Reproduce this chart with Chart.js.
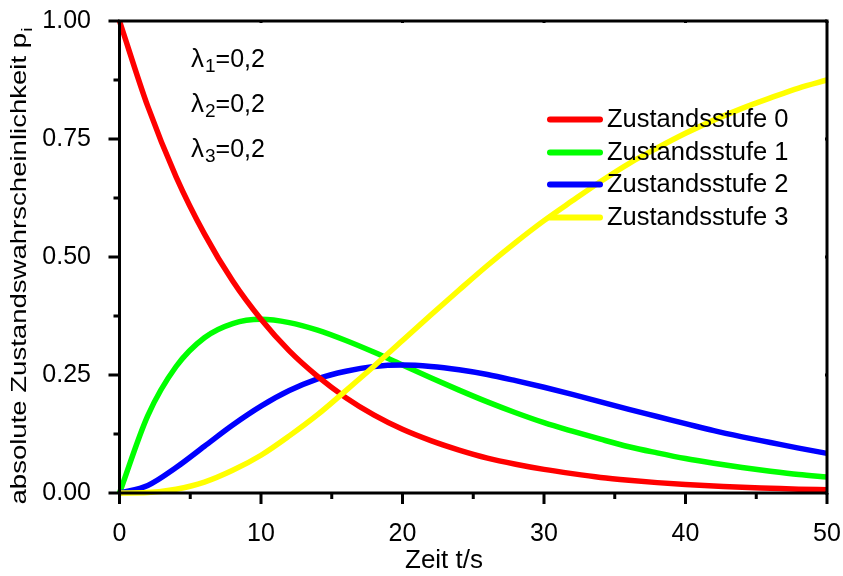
<!DOCTYPE html>
<html>
<head>
<meta charset="utf-8">
<script src="https://cdn.jsdelivr.net/npm/chart.js@4"></script>
<style>
  html, body { margin: 0; padding: 0; background: #fff; }
  #wrap { width: 843px; height: 576px; }
</style>
</head>
<body>
<div id="wrap"><canvas id="chart"></canvas></div>
<script>
'use strict';

var fontFamily = "'Liberation Sans', Arial, sans-serif";

var times = [0, 2, 4, 6, 8, 10, 12, 14, 16, 18, 20, 22, 24, 26, 28, 30, 32, 34, 36, 38, 40, 42, 44, 46, 48, 50];
var stufe0 = [1.000, 0.819, 0.670, 0.549, 0.449, 0.368, 0.301, 0.247, 0.202, 0.165, 0.135, 0.111, 0.091, 0.074, 0.061, 0.050, 0.041, 0.033, 0.027, 0.022, 0.018, 0.015, 0.012, 0.010, 0.008, 0.007];
var stufe1 = [0.000, 0.164, 0.268, 0.329, 0.359, 0.368, 0.361, 0.345, 0.323, 0.298, 0.271, 0.244, 0.218, 0.193, 0.170, 0.149, 0.131, 0.114, 0.098, 0.085, 0.073, 0.063, 0.054, 0.046, 0.039, 0.034];
var stufe2 = [0.000, 0.016, 0.054, 0.099, 0.144, 0.184, 0.217, 0.242, 0.258, 0.268, 0.271, 0.268, 0.261, 0.251, 0.238, 0.224, 0.209, 0.193, 0.177, 0.162, 0.147, 0.132, 0.119, 0.107, 0.095, 0.084];
var stufe3 = [0.000, 0.001, 0.008, 0.023, 0.048, 0.080, 0.121, 0.166, 0.217, 0.269, 0.323, 0.377, 0.430, 0.482, 0.531, 0.577, 0.619, 0.660, 0.698, 0.731, 0.762, 0.790, 0.815, 0.837, 0.858, 0.875];

var seriesNames = ['Zustandsstufe 0', 'Zustandsstufe 1', 'Zustandsstufe 2', 'Zustandsstufe 3'];
var seriesColors = ['#ff0000', '#00ff00', '#0000ff', '#ffff00'];
var seriesData = [stufe0, stufe1, stufe2, stufe3];
// lower order is drawn on top: yellow, then red, then blue, green at the bottom
var seriesOrder = [1, 3, 2, 0];

var xMajorTicks = [0, 10, 20, 30, 40, 50];
var xMinorTicks = [5, 15, 25, 35, 45];
var yMajorTicks = [0, 0.25, 0.5, 0.75, 1.0];
var yMinorTicks = [0.125, 0.375, 0.625, 0.875];
var yTickLabels = ['0.00', '0.25', '0.50', '0.75', '1.00'];

var lambdaSubs = ['1', '2', '3'];
var lambdaValue = '=0,2';

var xTitle = 'Zeit t/s';
var yTitle = 'absolute Zustandswahrscheinlichkeit p';
var yTitleSub = 'i';

function toPoints(ys) {
  return times.map(function (t, i) { return { x: t, y: ys[i] }; });
}

var datasets = seriesData.map(function (ys, i) {
  return {
    label: seriesNames[i],
    data: toPoints(ys),
    borderColor: seriesColors[i],
    backgroundColor: seriesColors[i],
    borderWidth: 5.5,
    pointRadius: 0,
    cubicInterpolationMode: 'monotone',
    order: seriesOrder[i],
    clip: false
  };
});

function font(size) { return size + 'px ' + fontFamily; }

var decorations = {
  id: 'decorations',
  afterDatasetsDraw: function (chart) {
    var ctx = chart.ctx;
    var area = chart.chartArea;
    var xs = chart.scales.x;
    var ys = chart.scales.y;
    ctx.save();

    // frame
    ctx.strokeStyle = '#000';
    ctx.lineWidth = 3;
    ctx.strokeRect(area.left, area.top, area.right - area.left, area.bottom - area.top);

    // ticks
    ctx.lineWidth = 3;
    ctx.beginPath();
    xMajorTicks.forEach(function (v) {
      var px = xs.getPixelForValue(v);
      ctx.moveTo(px, area.bottom); ctx.lineTo(px, area.bottom + 11);
      ctx.moveTo(px, area.top); ctx.lineTo(px, area.top + 2);
    });
    xMinorTicks.forEach(function (v) {
      var px = xs.getPixelForValue(v);
      ctx.moveTo(px, area.bottom); ctx.lineTo(px, area.bottom + 6);
    });
    yMajorTicks.forEach(function (v) {
      var py = ys.getPixelForValue(v);
      ctx.moveTo(area.left, py); ctx.lineTo(area.left - 11, py);
      ctx.moveTo(area.right, py); ctx.lineTo(area.right - 2, py);
    });
    yMinorTicks.forEach(function (v) {
      var py = ys.getPixelForValue(v);
      ctx.moveTo(area.left, py); ctx.lineTo(area.left - 6, py);
    });
    ctx.stroke();

    ctx.fillStyle = '#000';
    ctx.textBaseline = 'alphabetic';

    // tick labels
    ctx.font = font(25);
    ctx.textAlign = 'center';
    xMajorTicks.forEach(function (v) {
      ctx.fillText(String(v), xs.getPixelForValue(v), 541);
    });
    ctx.textAlign = 'right';
    yMajorTicks.forEach(function (v, i) {
      ctx.fillText(yTickLabels[i], 91, ys.getPixelForValue(v) + 7);
    });

    // lambda notes
    var lamBase = [67, 112, 157];
    lambdaSubs.forEach(function (sub, i) {
      var x = 191;
      ctx.textAlign = 'left';
      ctx.font = font(26);
      ctx.fillText('\u03bb', x, lamBase[i]);
      x += ctx.measureText('\u03bb').width + 1;
      ctx.font = font(19);
      ctx.fillText(sub, x, lamBase[i] + 5);
      x += ctx.measureText(sub).width;
      ctx.font = font(25);
      ctx.fillText(lambdaValue, x, lamBase[i]);
    });

    // legend
    var legBase = [127, 160, 192, 225];
    ctx.lineCap = 'round';
    seriesNames.forEach(function (name, i) {
      ctx.strokeStyle = seriesColors[i];
      ctx.lineWidth = 6;
      ctx.beginPath();
      ctx.moveTo(550, legBase[i] - 7.5);
      ctx.lineTo(600, legBase[i] - 7.5);
      ctx.stroke();
      ctx.font = font(25.5);
      ctx.textAlign = 'left';
      ctx.fillText(name, 607, legBase[i]);
    });

    // x axis title
    ctx.font = font(26);
    ctx.textAlign = 'center';
    ctx.fillText(xTitle, 444, 568);

    // y axis title, rotated and stretched along its length
    ctx.translate(26, 266);
    ctx.rotate(-Math.PI / 2);
    ctx.font = font(22);
    var w1 = ctx.measureText(yTitle).width;
    ctx.font = font(15);
    var w2 = ctx.measureText(yTitleSub).width;
    var total = w1 + w2 + 1;
    ctx.scale(477 / total, 1);
    ctx.textAlign = 'left';
    ctx.font = font(22);
    ctx.fillText(yTitle, -total / 2, 0);
    ctx.font = font(15);
    ctx.fillText(yTitleSub, -total / 2 + w1 + 1, 6);

    ctx.restore();
  }
};

new Chart(document.getElementById('chart'), {
  type: 'line',
  data: { datasets: datasets },
  options: {
    responsive: true,
    maintainAspectRatio: false,
    animation: false,
    layout: { padding: { left: 0, right: 16, top: 21, bottom: 0 } },
    plugins: {
      legend: { display: false },
      tooltip: { enabled: false }
    },
    scales: {
      x: {
        type: 'linear',
        min: 0,
        max: 50,
        afterFit: function (scale) {
          scale.height = 83;
          scale.paddingLeft = 0;
          scale.paddingRight = 0;
        },
        grid: { display: false },
        border: { display: false },
        ticks: { display: false }
      },
      y: {
        type: 'linear',
        min: 0,
        max: 1,
        afterFit: function (scale) {
          scale.width = 119.5;
          scale.paddingTop = 0;
          scale.paddingBottom = 0;
        },
        grid: { display: false },
        border: { display: false },
        ticks: { display: false }
      }
    }
  },
  plugins: [decorations]
});
</script>
</body>
</html>
